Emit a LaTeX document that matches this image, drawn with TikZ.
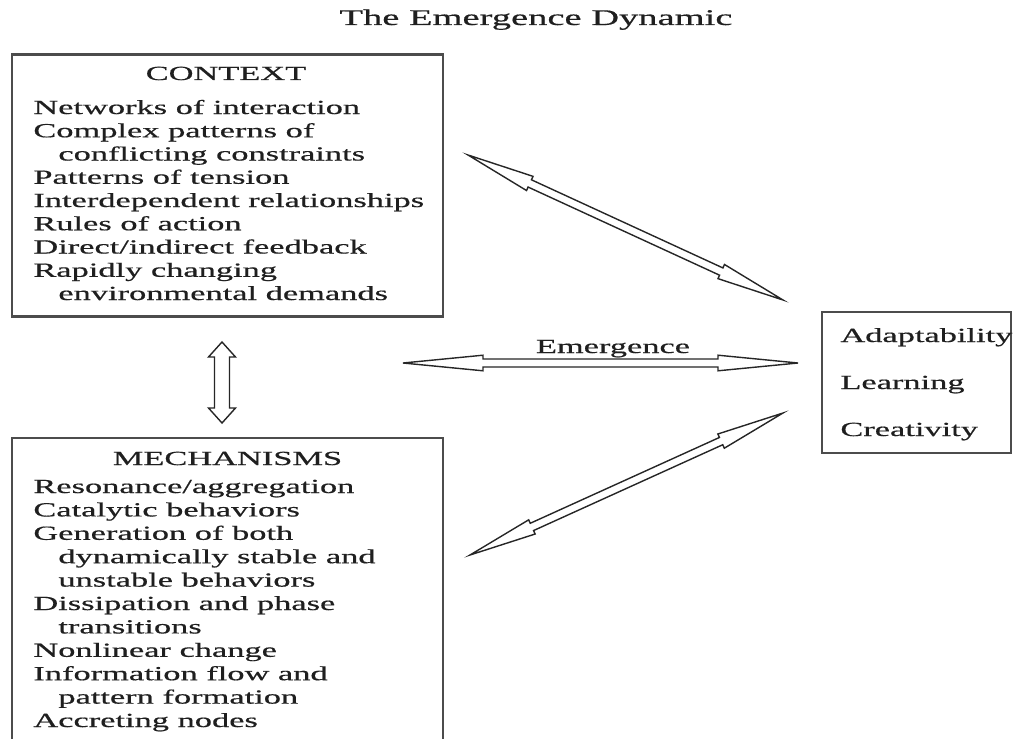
\documentclass[tikz,border=0pt]{standalone}
\usepackage{fontspec}
\setmainfont{Liberation Serif}[FakeStretch=1.72, FakeBold=0.6]
\usetikzlibrary{calc}

% hollow double-headed arrow between two named coordinates:
% #1 from, #2 to, #3 head length, #4 head half width, #5 shaft half width
\newcommand\dblarrowlink[5]{%
  \coordinate (ha) at ($(#1)!#3!(#2)$);
  \coordinate (hb) at ($(#2)!#3!(#1)$);
  \draw[dblarrow] (#1)
    -- ($(ha)!#4!90:(#2)$) -- ($(ha)!#5!90:(#2)$)
    -- ($(hb)!#5!-90:(#1)$) -- ($(hb)!#4!-90:(#1)$)
    -- (#2)
    -- ($(hb)!#4!90:(#1)$) -- ($(hb)!#5!90:(#1)$)
    -- ($(ha)!#5!-90:(#2)$) -- ($(ha)!#4!-90:(#2)$)
    -- cycle;}

\begin{document}
\begin{tikzpicture}[x=0.5pt,y=-0.5pt,
  txt/.style={anchor=base west, inner sep=0pt, text=black!88,
              font=\fontsize{10pt}{12pt}\selectfont},
  heading/.style={anchor=base, inner sep=0pt, text=black!88,
              font=\fontsize{10pt}{12pt}\selectfont},
  frame/.style={draw=black!70, line width=1.2pt, inner sep=0pt},
  dblarrow/.style={draw=black!85, line width=0.7pt, fill=white, line join=miter}]

\useasboundingbox (0,0) rectangle (1016,738);
\clip (0,0) rectangle (1016,738);

% title
\node[heading, font=\fontsize{11.2pt}{13pt}\selectfont] (title) at (536,25) {The Emergence Dynamic};

% boxes
\node[frame, minimum width=215.5pt, minimum height=131pt] (context) at (227.5,185.5) {};
\node[frame, minimum width=215.5pt, minimum height=181pt] (mech) at (227.5,619) {};
\node[frame, minimum width=94.5pt, minimum height=70.5pt] (outcome) at (916.5,382.5) {};

% context box text
\node[heading] (ctxhead) at (226,80) {CONTEXT};
\foreach \x/\t [count=\i] in {33/Networks of interaction, 33/Complex patterns of,
    58/conflicting constraints, 33/Patterns of tension,
    33/Interdependent relationships, 33/Rules of action,
    33/{Direct/indirect feedback}, 33/Rapidly changing,
    58/environmental demands}
  \node[txt] (ctx\i) at (\x,{114+(\i-1)*23.25}) {\t};

% mechanisms box text
\node[heading] (mechhead) at (227.5,465) {MECHANISMS};
\foreach \x/\t [count=\i] in {33/{Resonance/aggregation}, 33/Catalytic behaviors,
    33/Generation of both, 58/dynamically stable and,
    58/unstable behaviors, 33/Dissipation and phase,
    58/transitions, 33/Nonlinear change,
    33/Information flow and, 58/pattern formation,
    33/Accreting nodes}
  \node[txt] (mech\i) at (\x,{493+(\i-1)*23.4}) {\t};

% outcome box text
\node[txt] (out1) at (840,342) {Adaptability};
\node[txt] (out2) at (840,389) {Learning};
\node[txt] (out3) at (840,436) {Creativity};

% arrow end points
\coordinate (vtop) at (222,342);
\coordinate (vbot) at (222,423);
\coordinate (eleft) at (403,363);
\coordinate (eright) at (798,363);
\coordinate (uleft) at (468,155);
\coordinate (uright) at (783,300);
\coordinate (lleft) at (470,555);
\coordinate (lright) at (783,413);

% arrows
\dblarrowlink{vtop}{vbot}{7.5pt}{6.75pt}{3.75pt}
\dblarrowlink{eleft}{eright}{40pt}{3.9pt}{2pt}
\dblarrowlink{uleft}{uright}{34pt}{3.9pt}{2pt}
\dblarrowlink{lleft}{lright}{34pt}{3.9pt}{2pt}

\node[heading] (emlabel) at (613,353) {Emergence};

\end{tikzpicture}
\end{document}
